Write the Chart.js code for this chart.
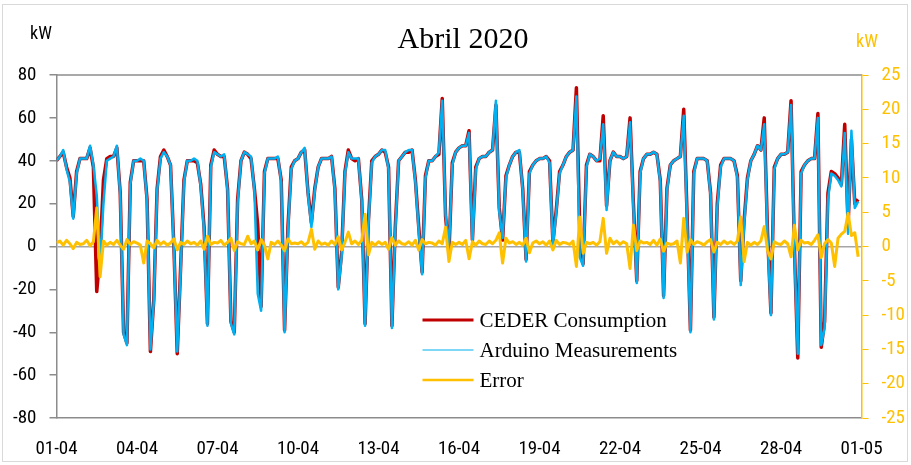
<!DOCTYPE html>
<html>
<head>
<meta charset="utf-8">
<title>Abril 2020</title>
<script src="https://cdn.jsdelivr.net/npm/chart.js@4.4.0/dist/chart.umd.min.js"></script>
<style>
  html, body { margin: 0; padding: 0; background: #fff; }
  #wrap { width: 911px; height: 465px; }
</style>
</head>
<body>
<div id="wrap"><canvas id="chart" width="911" height="465"></canvas></div>
<script>
// April 2020, one sample every 3 hours (0h, 3h ... 21h), one row per day
const sampleHours = [0, 3, 6, 9, 12, 15, 18, 21];
const dateLabels = ['01-04', '04-04', '07-04', '10-04', '13-04', '16-04', '19-04', '22-04', '25-04', '28-04', '01-05'];
const seriesNames = ['CEDER Consumption', 'Arduino Measurements', 'Error'];

// kW, left axis
const cederConsumption = [
  40, 42, 44, 37, 32, 14, 35, 41,
  41, 41, 46, 37, -21, -3, 31, 41,
  42, 42, 46, 25, -40, -45, 30, 40,
  40, 40, 40, 22, -49, -25, 27, 42,
  45, 42, 38, 0, -50, -10, 31, 40,
  40, 40, 39, 29, 9, -36, 38, 45,
  43, 42, 42, 27, -35, -40, 22, 40,
  44, 43, 41, 27, 10, -28, 35, 41,
  41, 41, 41, 31, -39, 9, 37, 40,
  41, 44, 45, 25, 11, 27, 37, 41,
  41, 41, 42, 27, -19, -3, 35, 45,
  41, 40, 41, 22, -36, 12, 40, 42,
  43, 45, 44, 37, -37, 9, 40, 42,
  44, 44, 45, 31, 9, -12, 33, 40,
  40, 42, 43, 69, 14, -3, 39, 44,
  46, 47, 47, 54, 3, 37, 41, 42,
  42, 44, 45, 66, 18, 3, 33, 38,
  42, 44, 44, 27, -6, 35, 38, 40,
  41, 41, 42, 40, 2, 17, 35, 38,
  42, 44, 45, 74, 8, -8, 38, 43,
  42, 40, 40, 61, 19, 40, 44, 42,
  42, 41, 42, 60, 20, -16, 35, 41,
  43, 43, 44, 43, 31, -23, 27, 38,
  40, 41, 42, 64, 15, -39, 35, 41,
  41, 41, 40, 25, -33, 20, 38, 41,
  41, 41, 40, 33, -16, 12, 32, 40,
  43, 47, 45, 60, 6, -31, 37, 41,
  43, 43, 44, 68, 0, -52, 35, 38,
  40, 41, 41, 62, -47, -35, 25, 35,
  34, 32, 29, 57, 10, 50, 20, 22
];

// kW, left axis
const arduinoMeasurements = [
  40, 42, 45, 36, 30, 13, 34, 41,
  41, 41, 47, 38, 24, -8, 20, 40,
  41, 42, 47, 24, -41, -46, 29, 40,
  40, 41, 40, 21, -48, -26, 26, 41,
  44, 42, 38, -1, -49, -12, 30, 40,
  40, 41, 40, 28, 7, -37, 37, 44,
  43, 42, 43, 26, -36, -41, 20, 40,
  44, 43, 42, 26, -22, -30, 34, 41,
  41, 41, 42, 30, -40, 7, 36, 40,
  41, 44, 46, 24, 9, 26, 37, 41,
  41, 41, 42, 26, -20, -5, 34, 44,
  41, 41, 41, 21, -37, 10, 39, 42,
  43, 45, 45, 36, -38, 7, 40, 42,
  44, 45, 45, 30, 7, -13, 32, 40,
  40, 42, 44, 68, 15, -1, 38, 44,
  46, 47, 47, 53, 1, 36, 41, 42,
  42, 44, 45, 68, 16, 4, 32, 38,
  42, 44, 45, 26, -7, 34, 38, 40,
  41, 41, 42, 39, 0, 16, 34, 38,
  42, 44, 45, 70, -5, -9, 37, 43,
  42, 40, 41, 57, 17, 40, 44, 42,
  42, 41, 42, 58, 18, -17, 34, 41,
  43, 43, 44, 43, 30, -24, 26, 38,
  40, 41, 42, 61, 12, -40, 34, 41,
  41, 41, 40, 24, -34, 18, 37, 41,
  41, 41, 40, 32, -18, 10, 31, 40,
  43, 47, 45, 57, 3, -32, 36, 41,
  43, 43, 44, 66, -2, -50, 34, 38,
  40, 41, 41, 60, -46, -38, 22, 34,
  33, 31, 28, 53, 6, 54, 18, 21
];

// kW, right axis
const errorKw = [
  0.5, 0.8, 0.2, 0.9, 0.4, -0.3, 0.6, 0.3,
  0.4, 0.9, 0.1, 0.7, 5.6, -4.4, 0.8, 0.2,
  0.6, 0.3, 0.9, 0.2, -0.4, 1.0, 0.3, 0.7,
  0.5, 0.2, -2.4, 0.8, 0.4, -0.2, 0.9, 0.3,
  0.7, 0.2, 0.5, 1.1, -0.5, 0.6, 0.3, 0.8,
  0.4, 0.6, 0.2, 0.8, -0.4, 1.5, 0.3, 0.6,
  0.5, 0.9, 0.2, 0.6, 1.2, -0.6, 0.7, 0.4,
  0.3, 1.5, 0.4, 0.8, -0.5, 1.0, 0.2, -1.8,
  0.6, 0.3, 0.8, 0.2, -0.6, 1.1, 0.4, 0.5,
  0.4, 0.7, 0.2, 0.6, 2.5, -0.4, 0.8, 0.3,
  0.5, 0.2, 0.8, 0.3, 1.4, -0.5, 0.6, 2.1,
  0.4, 0.8, 0.3, 0.9, 4.7, -1.2, 0.6, 0.2,
  0.7, 0.3, 0.6, -0.4, 1.3, 0.2, 0.8, 0.4,
  0.3, 0.7, 0.2, 0.9, -0.5, 1.0, 0.4, 0.6,
  0.5, 0.2, 0.8, 0.4, 2.8, -2.2, 0.6, 0.3,
  0.6, 0.3, 0.9, -1.8, 0.7, 0.2, 0.8, 0.4,
  0.3, 0.8, 0.4, 0.9, 2.0, -2.4, 1.2, 0.5,
  0.7, 0.3, 0.6, 0.2, 1.2, -0.9, 0.5, 0.8,
  0.4, 0.7, 0.2, 0.8, -0.5, 0.9, 0.3, 0.6,
  0.5, 0.3, 0.8, -2.9, 4.3, -1.0, 0.6, 0.4,
  0.6, 0.2, 0.7, 4.1, -1.0, 1.2, 0.4, 0.8,
  0.3, 0.7, 0.4, -3.2, 3.1, -0.6, 0.8, 0.5,
  0.6, 0.3, 0.9, 0.2, 1.1, -0.7, 0.5, 0.3,
  0.4, 0.8, -2.4, 4.1, -0.8, 1.0, 0.3, 0.7,
  0.5, 0.2, 0.7, 1.0, -0.8, 0.6, 0.3, 0.8,
  0.4, 0.7, 0.3, 0.8, 4.3, -2.2, 0.6, 0.2,
  0.6, 0.3, 0.8, 2.9, -0.6, -1.8, 0.7, 0.4,
  0.3, 0.8, 0.4, -1.5, 3.1, -0.5, 0.9, 0.5,
  0.6, 0.3, 0.9, 1.7, -1.6, 0.4, 1.0, 0.5,
  -2.9, 1.2, 1.8, 2.2, 4.8, 1.6, 2.0, -1.5
];

const RED = '#C00000';
const BLUE = '#00B0F0';
const GOLD = '#FFC000';
const FRAME = '#8C8C8C';
const NARROW = '"Liberation Sans Narrow", "Arial Narrow", "Roboto Condensed", "Liberation Sans", sans-serif';
const SERIF = '"Liberation Serif", "Times New Roman", serif';

// x in days since 1 April
const toPoints = arr => arr.map((v, i) => ({ x: Math.floor(i / sampleHours.length) + sampleHours[i % sampleHours.length] / 24, y: v }));

const frameAndTexts = {
    id: 'frameAndTexts',
    beforeDraw(chart) {
        const { ctx } = chart;
        ctx.save();
        ctx.strokeStyle = '#D9D9D9'; ctx.lineWidth = 1;
        ctx.strokeRect(2.5, 4.5, 905, 457);
        ctx.restore();
    },
    beforeDatasetsDraw(chart) {
        const { ctx, chartArea: a } = chart;
        ctx.save();
        ctx.strokeStyle = FRAME; ctx.lineWidth = 1.5;
        ctx.beginPath(); ctx.moveTo(a.left, a.top); ctx.lineTo(a.right, a.top); ctx.stroke();
        ctx.restore();
    },
    afterDraw(chart) {
        const { ctx, chartArea: a } = chart;
        ctx.save();
        ctx.fillStyle = '#000'; ctx.textAlign = 'center'; ctx.textBaseline = 'alphabetic';
        ctx.font = '30px ' + SERIF;
        ctx.fillText('Abril 2020', 463, 48);
        ctx.font = '18px ' + NARROW; ctx.textBaseline = 'middle';
        ctx.fillText('kW', 41, 34);
        ctx.fillStyle = GOLD;
        ctx.fillText('kW', 867, 42);

        // legend inside the plot
        const lx = a.left + 366, ly = a.top + 245, rowH = 30;
        ctx.textAlign = 'left'; ctx.font = '21px ' + SERIF;
        chart.data.datasets.forEach((ds, i) => {
            const y = ly + i * rowH;
            ctx.strokeStyle = ds.borderColor; ctx.lineWidth = ds.legendWidth;
            ctx.beginPath(); ctx.moveTo(lx, y); ctx.lineTo(lx + 51, y); ctx.stroke();
            ctx.fillStyle = '#000';
            ctx.fillText(ds.label, lx + 57, y + 1);
        });
        ctx.restore();
    }
};

new Chart(document.getElementById('chart').getContext('2d'), {
    type: 'line',
    data: {
        datasets: [
            { label: seriesNames[0], data: toPoints(cederConsumption), borderColor: RED, borderWidth: 3.5, legendWidth: 3, yAxisID: 'y', order: 3 },
            { label: seriesNames[1], data: toPoints(arduinoMeasurements), borderColor: BLUE, borderWidth: 2.5, legendWidth: 1.2, yAxisID: 'y', order: 2 },
            { label: seriesNames[2], data: toPoints(errorKw), borderColor: GOLD, borderWidth: 3, legendWidth: 2.5, yAxisID: 'y2', order: 1 }
        ]
    },
    options: {
        responsive: false, animation: false,
        layout: { padding: { top: 75, left: 0, right: 0, bottom: 0 } },
        elements: { point: { radius: 0 }, line: { tension: 0, borderJoinStyle: 'round' } },
        plugins: { legend: { display: false }, title: { display: false }, tooltip: { enabled: false } },
        scales: {
            x: {
                type: 'linear', min: 0, max: 30,
                afterFit: s => { s.height = 47; },
                grid: { display: false },
                border: { display: true, color: FRAME, width: 1.5 },
                ticks: { stepSize: 3, padding: 12, color: '#000', font: { family: NARROW, size: 19 }, maxRotation: 0, autoSkip: false,
                    callback: v => dateLabels[Math.round(v / 3)] }
            },
            y: {
                position: 'left', min: -80, max: 80,
                afterFit: s => { s.width = 56.5; },
                grid: { color: c => (c.tick && c.tick.value === 0) ? '#A6A6A6' : 'rgba(0,0,0,0)', lineWidth: 1.5, tickColor: FRAME, tickLength: 7 },
                border: { display: true, color: FRAME, width: 1.5 },
                ticks: { stepSize: 20, padding: 13, color: '#000', font: { family: NARROW, size: 19 } }
            },
            y2: {
                position: 'right', min: -25, max: 25,
                afterFit: s => { s.width = 49.5; },
                grid: { drawOnChartArea: false, color: GOLD, tickColor: GOLD, tickLength: 7 },
                border: { display: true, color: GOLD, width: 1.5 },
                ticks: { stepSize: 5, padding: 13, color: GOLD, font: { family: NARROW, size: 19 } }
            }
        }
    },
    plugins: [frameAndTexts]
});
</script>
</body>
</html>
